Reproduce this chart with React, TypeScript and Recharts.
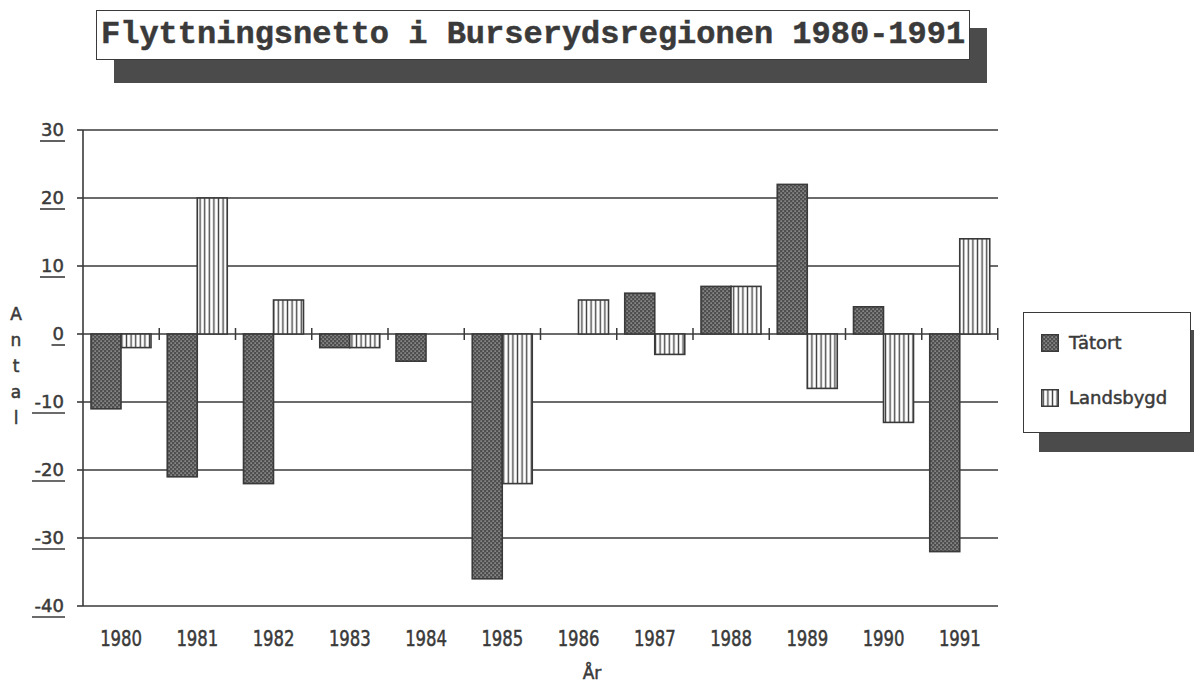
import { Bar, BarChart, CartesianGrid, XAxis, YAxis } from "recharts";

const YEARS = ["1980", "1981", "1982", "1983", "1984", "1985", "1986", "1987", "1988", "1989", "1990", "1991"];
const TATORT = [-11, -21, -22, -2, -4, -36, 0, 6, 7, 22, 4, -32];
const LANDSBYGD = [-2, 20, 5, -2, 0, -22, 5, -3, 7, -8, -13, 14];
const Y_TICKS = [-40, -30, -20, -10, 0, 10, 20, 30];
const Y_LABEL = ["A", "n", "t", "a", "l"];

const INK = "#3a3a3a";
const DARK = "#4b4b4b";
const GAP = 8;

const data = YEARS.map((year, i) => ({ year, tatort: TATORT[i], landsbygd: LANDSBYGD[i] }));

function YTick({ x, y, payload }: any) {
  const label = String(payload.value);
  const w = label.replace("-", "").length * 11.5 + (label.startsWith("-") ? 8 : 0);
  return (
    <g>
      <text
        x={x}
        y={y + 6}
        textAnchor="end"
        fontSize={18}
        fill={INK}
        stroke={INK}
        strokeWidth={0.5}
        fontFamily="DejaVu Sans"
      >
        {label}
      </text>
      <line x1={x - w - 1} x2={x + 1} y1={y + 11} y2={y + 11} stroke={INK} strokeWidth={1.6} />
    </g>
  );
}

function XTick({ x, y, payload }: any) {
  return (
    <text
      x={x}
      y={y + 40}
      textAnchor="middle"
      fontSize={21}
      fill={INK}
      stroke={INK}
      strokeWidth={0.5}
      fontFamily="DejaVu Sans"
      textLength={42}
      lengthAdjust="spacingAndGlyphs"
    >
      {payload.value}
    </text>
  );
}

// bar with pattern fill; the Tätort bar also draws the little ticks on the zero line
function PatternBar(fill: string, key: "tatort" | "landsbygd", withTicks: boolean) {
  return (props: any) => {
    const { x, y, width, height, payload, index } = props;
    const v = payload[key];
    const top = Math.min(y, y + height);
    const h = Math.abs(height);
    const zeroY = v >= 0 ? top + h : top;
    const bandStart = x - GAP;
    const band = 2 * width + 2 * GAP;
    return (
      <g>
        {h > 0.5 && (
          <rect x={x} y={top} width={width} height={h} fill={fill} stroke={INK} strokeWidth={1.6} />
        )}
        {withTicks && index > 0 && (
          <line x1={bandStart} x2={bandStart} y1={zeroY - 6} y2={zeroY + 6} stroke={INK} strokeWidth={1.5} />
        )}
        {withTicks && index === YEARS.length - 1 && (
          <line x1={bandStart + band} x2={bandStart + band} y1={zeroY - 6} y2={zeroY + 6} stroke={INK} strokeWidth={1.5} />
        )}
      </g>
    );
  };
}

function Swatch({ fill }: { fill: string }) {
  return (
    <svg width={18} height={18} style={{ display: "block" }}>
      <rect x={0.75} y={0.75} width={16.5} height={16.5} fill={fill} stroke={INK} strokeWidth={1.5} />
    </svg>
  );
}

const heavy = { WebkitTextStroke: `0.5px ${INK}` } as const;

export default function App() {
  return (
    <div
      style={{
        position: "absolute",
        left: 0,
        top: 0,
        width: 1194,
        height: 686,
        background: "#fff",
        overflow: "hidden",
        fontFamily: "DejaVu Sans",
        color: INK,
      }}
    >
      {/* title with drop shadow */}
      <div style={{ position: "absolute", left: 114, top: 28, width: 873, height: 55, background: DARK }} />
      <div
        style={{
          position: "absolute",
          left: 96,
          top: 10,
          width: 868,
          height: 48,
          background: "#fff",
          border: `1.5px solid ${INK}`,
          fontFamily: "Liberation Mono",
          fontWeight: 700,
          fontSize: 32,
          lineHeight: "48px",
          paddingLeft: 4,
          whiteSpace: "nowrap",
          boxSizing: "content-box",
          ...heavy,
        }}
      >
        Flyttningsnetto i Burserydsregionen 1980-1991
      </div>

      <div style={{ position: "absolute", left: 0, top: 0 }}>
        <BarChart
          width={1010}
          height={686}
          data={data}
          margin={{ top: 130, right: 12, left: 23, bottom: 30 }}
          barCategoryGap={GAP}
          barGap={0}
        >
          <defs>
            <pattern id="dots" width={4} height={4} patternUnits="userSpaceOnUse">
              <rect width={4} height={4} fill="#4f4f4f" />
              <rect x={0.5} y={0.5} width={1.2} height={1.2} fill="#c0c0c0" />
              <rect x={2.5} y={2.5} width={1.2} height={1.2} fill="#c0c0c0" />
            </pattern>
            <pattern id="stripes" width={4.6} height={10} patternUnits="userSpaceOnUse">
              <rect width={4.6} height={10} fill="#fff" />
              <line x1={2.3} x2={2.3} y1={0} y2={10} stroke="#444" strokeWidth={1.4} />
            </pattern>
          </defs>
          <CartesianGrid vertical={false} stroke={INK} strokeWidth={1.6} strokeOpacity={1} />
          <XAxis
            dataKey="year"
            axisLine={false}
            tickLine={false}
            tickSize={0}
            tickMargin={0}
            height={50}
            interval={0}
            tick={<XTick />}
          />
          <YAxis
            domain={[-40, 30]}
            ticks={Y_TICKS}
            interval={0}
            width={60}
            tickSize={6}
            tickMargin={13}
            axisLine={{ stroke: INK, strokeWidth: 1.6 }}
            tickLine={{ stroke: INK, strokeWidth: 1.6 }}
            tick={<YTick />}
          />
          <Bar dataKey="tatort" name="Tätort" isAnimationActive={false} shape={PatternBar("url(#dots)", "tatort", true)} />
          <Bar dataKey="landsbygd" name="Landsbygd" isAnimationActive={false} shape={PatternBar("url(#stripes)", "landsbygd", false)} />
        </BarChart>
      </div>

      {/* y axis title, stacked letters */}
      {Y_LABEL.map((ch, i) => (
        <div
          key={i}
          style={{
            position: "absolute",
            left: 8,
            top: 304 + i * 26,
            width: 16,
            textAlign: "center",
            fontSize: 17,
            lineHeight: "20px",
            ...heavy,
          }}
        >
          {ch}
        </div>
      ))}

      {/* x axis title */}
      <div style={{ position: "absolute", left: 572, top: 663, width: 40, textAlign: "center", fontSize: 17, ...heavy }}>
        År
      </div>

      {/* legend with drop shadow */}
      <div style={{ position: "absolute", left: 1039, top: 330, width: 170, height: 122, background: DARK }} />
      <div
        style={{
          position: "absolute",
          left: 1023,
          top: 312,
          width: 166,
          height: 119,
          background: "#fff",
          border: `1.5px solid ${INK}`,
          fontSize: 18,
          ...heavy,
        }}
      >
        <div style={{ position: "absolute", left: 17, top: 19, display: "flex", alignItems: "center", gap: 10 }}>
          <Swatch fill="url(#dots)" />
          <span>Tätort</span>
        </div>
        <div style={{ position: "absolute", left: 17, top: 74, display: "flex", alignItems: "center", gap: 10 }}>
          <Swatch fill="url(#stripes)" />
          <span>Landsbygd</span>
        </div>
      </div>
    </div>
  );
}
